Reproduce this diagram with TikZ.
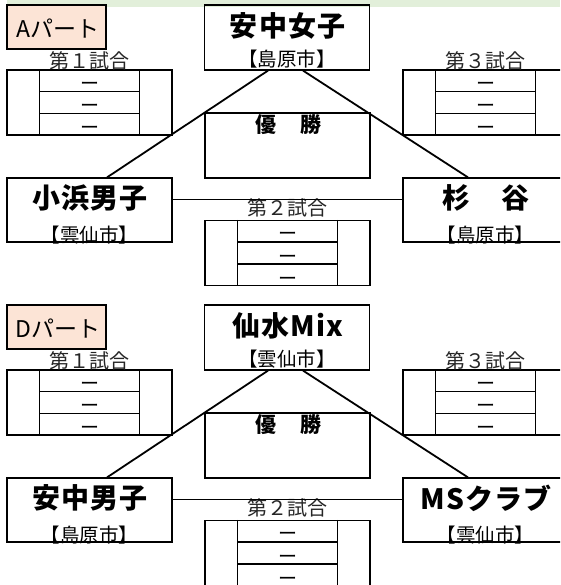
\documentclass[tikz,border=0pt]{standalone}
\usepackage{fontspec}
\usetikzlibrary{calc}
\newfontfamily\jp{Noto Sans CJK JP}
\newfontfamily\jpT[LetterSpace=4]{Noto Sans CJK JP}
\newfontfamily\jpW[LetterSpace=8]{Noto Sans CJK JP}
\definecolor{bandgreen}{HTML}{E2EFDA}
\definecolor{partfill}{HTML}{FCE4D6}
\tikzset{
  bx/.style={draw=black, line width=1.2pt, inner sep=0pt, minimum width=165pt, minimum height=65pt},
  cell/.style={line width=1.2pt},
  partbox/.style={draw=black, line width=1.2pt, fill=partfill, inner sep=0pt, minimum width=99pt, minimum height=44pt},
  parttext/.style={font=\jp\fontsize{23}{23}\selectfont, inner sep=0pt, yshift=-2pt, xshift=1.5pt},
  teamtitle/.style={font=\jpT\bfseries\fontsize{28}{28}\selectfont, inner sep=0pt, xshift=0.6pt, yshift=-2pt},
  city/.style={font=\jp\fontsize{19.5}{19.5}\selectfont, inner sep=0pt, yshift=-2pt},
  glabel/.style={font=\jp\fontsize{20}{20}\selectfont, text=black!85, inner sep=0pt, yshift=-1pt},
  wintext/.style={font=\jpW\bfseries\fontsize{21}{21}\selectfont, inner sep=0pt, xshift=0.8pt, yshift=-2pt},
  score/.style={font=\jp\fontsize{19}{19}\selectfont, inner sep=0pt, text height=9pt, text depth=0pt, anchor=base, yshift=-10pt},
  diag/.style={line width=1.8pt},
  link/.style={line width=1pt}
}
\newcommand\gamebox[5]{%
  \node[bx] (#1) at (#2,#3) {};
  \draw[cell] ([xshift=33pt]#1.north west) -- ([xshift=33pt]#1.south west);
  \draw[cell] ([xshift=-33pt]#1.north east) -- ([xshift=-33pt]#1.south east);
  \draw[cell] ($(#1.north west)!1/3!(#1.south west)+(33,0)$) -- ($(#1.north east)!1/3!(#1.south east)+(-33,0)$);
  \draw[cell] ($(#1.north west)!2/3!(#1.south west)+(33,0)$) -- ($(#1.north east)!2/3!(#1.south east)+(-33,0)$);
  \node[score] (#1-s1) at ($(#1.north)!1/6!(#1.south)$) {ー};
  \node[score] (#1-s2) at ($(#1.north)!3/6!(#1.south)$) {ー};
  \node[score] (#1-s3) at ($(#1.north)!5/6!(#1.south)$) {ー};
  \node[glabel] (#1-l) at ($(#1.north)+(0,-#5)$) {#4};
}
\newcommand\bracket[9]{%
  \node[partbox] (#1p) at (56.5,27) {};
  \node[parttext] (#1p-n) at (56.5,27) {#3};
  \node[bx] (#1t) at (287,37.5) {};
  \node[teamtitle] (#1t-n) at (287,24) {#4};
  \node[city] (#1t-c) at (287,57) {#5};
  \gamebox{#1g1}{89.5}{102.5}{第１試合}{10}
  \gamebox{#1g3}{485.5}{102.5}{第３試合}{10}
  \node[bx] (#1w) at (287.5,145.5) {};
  \node[wintext] (#1w-n) at (287.5,123) {優　勝};
  \node[bx, minimum height=64pt] (#1l) at (89.5,210) {};
  \node[teamtitle] (#1l-n) at (89.5,196) {#6};
  \node[city] (#1l-c) at (89.5,233) {#7};
  \node[bx, minimum height=64pt] (#1r) at (485.5,210) {};
  \node[teamtitle] (#1r-n) at (485.5,196) {#8};
  \node[city] (#1r-c) at (485.5,233) {#9};
  \gamebox{#1g2}{287.5}{253}{第２試合}{13}
  \draw[diag] ([xshift=-19pt]#1t.south) -- ([xshift=17.5pt]#1l.north);
  \draw[diag] ([xshift=16pt]#1t.south) -- ([xshift=-17.5pt]#1r.north);
  \draw[link] ([yshift=11pt]#1l.east) -- ([yshift=11pt]#1r.west);
}
\begin{document}
\begin{tikzpicture}[x=1pt, y=-1pt]
  \clip (0,0) rectangle (560,585);
  \fill[white] (0,0) rectangle (560,585);
  \fill[bandgreen] (7,0) rectangle (560,7);
  \bracket{a}{0}{Aパート}{安中女子}{【島原市】}{小浜男子}{【雲仙市】}{杉　谷}{【島原市】}
  \begin{scope}[yshift=-300pt]
    \bracket{d}{0}{Dパート}{仙水Mix}{【雲仙市】}{安中男子}{【島原市】}{MSクラブ}{【雲仙市】}
  \end{scope}
\end{tikzpicture}
\end{document}
